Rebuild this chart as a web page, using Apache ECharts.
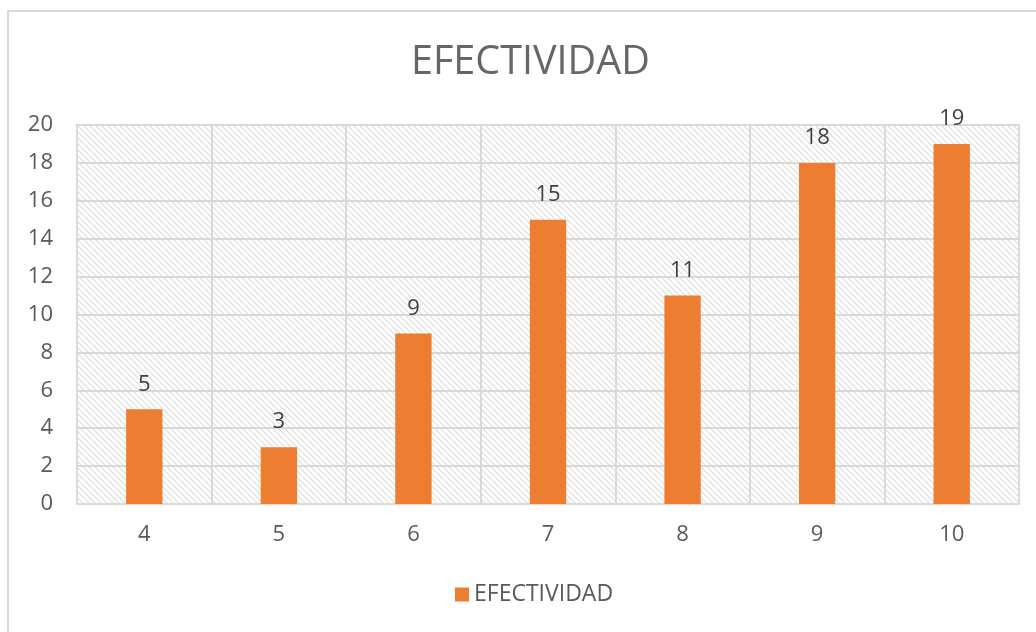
<!DOCTYPE html>
<html>
<head>
<meta charset="utf-8">
<script src="https://cdn.jsdelivr.net/npm/echarts@6/dist/echarts.min.js"></script>
<style>
html,body{margin:0;padding:0;background:#fff;}
#main{width:1036px;height:632px;}
</style>
</head>
<body>
<div id="main"></div>
<script>
const chartTitle = 'EFECTIVIDAD';
const seriesName = 'EFECTIVIDAD';
const categories = ['4', '5', '6', '7', '8', '9', '10'];
const values = [5, 3, 9, 15, 11, 18, 19];
const yTicks = [0, 2, 4, 6, 8, 10, 12, 14, 16, 18, 20];

function makeHatch() {
  const n = 6;
  const c = document.createElement('canvas');
  c.width = n; c.height = n;
  const ctx = c.getContext('2d');
  ctx.fillStyle = '#ffffff';
  ctx.fillRect(0, 0, n, n);
  ctx.strokeStyle = '#dcdcdc';
  ctx.lineWidth = 1.1;
  ctx.beginPath();
  ctx.moveTo(-1, -1); ctx.lineTo(n + 1, n + 1);
  ctx.moveTo(-1, n - 1); ctx.lineTo(1, n + 1);
  ctx.moveTo(n - 1, -1); ctx.lineTo(n + 1, 1);
  ctx.stroke();
  return c;
}

const chart = echarts.init(document.getElementById('main'), null, {renderer: 'canvas'});
const FONT = '"Open Sans", sans-serif';
chart.setOption({
  animation: false,
  backgroundColor: '#ffffff',
  title: {
    text: chartTitle,
    left: 406,
    top: 38,
    textStyle: {fontFamily: FONT, fontSize: 39.5, fontWeight: 'normal', color: '#666666'}
  },
  legend: {
    data: [seriesName],
    bottom: 21,
    left: 450,
    itemWidth: 14,
    itemHeight: 14,
    itemGap: 8,
    textStyle: {fontFamily: FONT, fontSize: 23, color: '#595959'},
    icon: 'rect'
  },
  graphic: [{
    type: 'rect',
    shape: {x: 8, y: 11, width: 1100, height: 700},
    style: {fill: 'none', stroke: '#d9d9d9', lineWidth: 2},
    silent: true
  }],
  grid: {
    left: 77, right: 17, top: 125, bottom: 128,
    show: true,
    backgroundColor: {image: makeHatch(), repeat: 'repeat'},
    borderColor: '#d9d9d9',
    borderWidth: 2
  },
  xAxis: {
    type: 'category',
    data: categories,
    axisLine: {show: true, lineStyle: {color: '#d9d9d9', width: 2}},
    axisTick: {show: false},
    splitLine: {show: true, lineStyle: {color: '#d9d9d9', width: 2}},
    axisLabel: {fontFamily: FONT, fontSize: 22, color: '#595959', margin: 20}
  },
  yAxis: {
    type: 'value',
    min: yTicks[0],
    max: yTicks[yTicks.length - 1],
    interval: yTicks[1] - yTicks[0],
    axisLine: {show: false},
    axisTick: {show: false},
    splitLine: {show: true, lineStyle: {color: '#d9d9d9', width: 2}},
    axisLabel: {fontFamily: FONT, fontSize: 22, color: '#595959', margin: 24}
  },
  series: [{
    name: seriesName,
    type: 'bar',
    data: values,
    barWidth: '27%',
    itemStyle: {color: '#ED7D31'},
    label: {
      show: true,
      position: 'top',
      distance: 14,
      fontFamily: FONT,
      fontSize: 22,
      color: '#404040'
    }
  }]
});
</script>
</body>
</html>
